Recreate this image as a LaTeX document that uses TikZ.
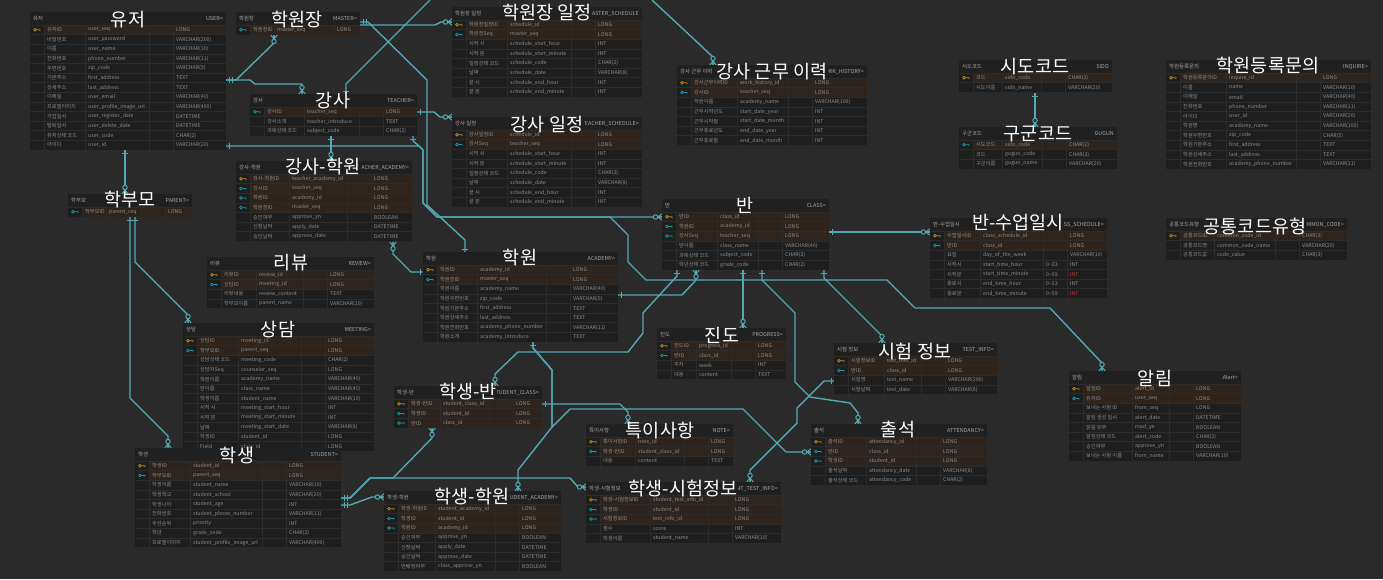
\documentclass[tikz,border=0pt]{standalone}
\usepackage{fontspec}
\setmainfont{Noto Sans CJK KR}
\definecolor{bgc}{HTML}{2A2A2A}
\definecolor{tbodyc}{HTML}{1E1E1E}
\definecolor{theadc}{HTML}{202020}
\definecolor{keyrowc}{HTML}{2F241C}
\definecolor{sepc}{HTML}{2C2C2C}
\definecolor{cellc}{HTML}{8C8C8C}
\definecolor{ttlc}{HTML}{A6A6A6}
\definecolor{connc}{HTML}{52AAB4}
\definecolor{keyy}{HTML}{B8901A}
\definecolor{keyt}{HTML}{1A9AA0}
\definecolor{redc}{HTML}{C83232}
\pgfdeclarelayer{bgl}\pgfdeclarelayer{lines}\pgfdeclarelayer{tables}\pgfdeclarelayer{mask}
\pgfsetlayers{bgl,lines,tables,mask,main}
\tikzset{
  cell/.style={font=\fontsize{5.2}{6}\selectfont, text=cellc, inner sep=0pt, anchor=west},
  ttl/.style={font=\fontsize{5.4}{6}\selectfont, text=ttlc, inner sep=0pt},
  biglabel/.style={font=\fontsize{18.5}{20}\selectfont, text=white, inner sep=0.5pt},
  rowsep/.style={draw=sepc, line width=0.4pt},
  conn/.style={draw=connc, line width=1.4pt, line join=round},
  mk/.style={draw=connc, line width=1pt},
}
\newcount\nrows
\newcommand\keyicon[3]{\draw[#1, line width=0.7pt] (#2-2,#3) circle (1.4) (#2-0.6,#3) -- (#2+3,#3) -- (#2+3,#3+1.3);}
\newcommand\dm[1]{\llap{\makebox[24pt][l]{#1}}}
\newcommand\redt[1]{\textcolor{redc}{#1}}
% #1 name #2 x #3 y #4 w #5 column offset #6 type offset #7 left title #8 right title #9 rows
\newcommand\tbl[9]{%
  \global\nrows=0
  \foreach \rr in {#9}{\global\advance\nrows by 1}%
  \pgfmathsetmacro\tbh{13+9.6*\the\nrows}%
  \node[inner sep=0pt, outer sep=0pt, minimum width=#4, minimum height=\tbh, anchor=north west] (#1) at (#2,#3) {};
  \begin{pgfonlayer}{tables}
    \fill[tbodyc] (#2,#3) rectangle ++(#4,\tbh);
    \fill[theadc] (#2,#3) rectangle ++(#4,13);
    \node[ttl, anchor=west] at (#2+3,#3+6.5) {#7};
    \node[ttl, anchor=east] at (#2+#4-3,#3+6.5) {#8};
    \foreach \kk/\ka/\kb/\kc [count=\ii] in {#9}{%
      \pgfmathsetmacro\yy{#3+13+(\ii-1)*9.6}%
      \ifnum\kk>0 \fill[keyrowc] (#2+14,\yy) rectangle ++(#4-14,9.6);\fi
      \draw[rowsep] (#2,\yy) -- ++(#4,0);
      \ifnum\kk=1 \keyicon{keyy}{#2+7}{\yy+4.8}\fi
      \ifnum\kk=2 \keyicon{keyt}{#2+7}{\yy+4.8}\fi
      \node[cell] at (#2+17,\yy+4.8) {\ka};
      \node[cell] at (#2+#5,\yy+4.8) {\kb};
      \node[cell] at (#2+#6,\yy+4.8) {\kc};
    }
    \foreach \vx in {14,#5-3,#6-27,#6-3}{\draw[rowsep] (#2+\vx,#3+13) -- ++(0,\tbh-13);}
  \end{pgfonlayer}
}
% #1 name #2 cx #3 cy #4 text #5 table top
\newcommand\blabel[5]{%
  \node[biglabel] (#1) at (#2,#3) {#4};
  \pgfmathsetmacro\mbot{#5+13}%
  \coordinate (#1-m1) at (0,#5);
  \coordinate (#1-m2) at (0,\mbot);
  \begin{pgfonlayer}{mask}
    \fill[theadc] (#1.west |- #1-m1) rectangle (#1.east |- #1-m2);
  \end{pgfonlayer}
}
\newcommand\crow[2]{\begin{scope}[shift={(#1)}, rotate=#2]
  \draw[mk] (0,3.2) -- (4,0) -- (0,-3.2) (0,0) -- (4,0);
  \draw[mk, fill=bgc] (6.5,0) circle (2.2);
\end{scope}}
\newcommand\onebar[2]{\begin{scope}[shift={(#1)}, rotate=#2]
  \draw[mk] (3,3) -- (3,-3);
\end{scope}}
\newcommand\twobar[2]{\begin{scope}[shift={(#1)}, rotate=#2]
  \draw[mk] (3,3) -- (3,-3) (6,3) -- (6,-3);
\end{scope}}
\begin{document}
\begin{tikzpicture}[x=1pt, y=-1pt]
\path[use as bounding box] (0,0) rectangle (1383,579);
\begin{pgfonlayer}{bgl}
  \fill[bgc] (0,0) rectangle (1383,579);
\end{pgfonlayer}

% ---------------- tables ----------------
\tbl{user}{30}{12}{196}{58}{146}{유저}{USER=}{1/유저ID/user\_seq/LONG, 0/비밀번호/user\_password/VARCHAR(200), 0/이름/user\_name/VARCHAR(10), 0/전화번호/phone\_number/VARCHAR(11), 0/우편번호/zip\_code/VARCHAR(5), 0/기본주소/first\_address/TEXT, 0/상세주소/last\_address/TEXT, 0/이메일/user\_email/VARCHAR(40), 0/프로필이미지/user\_profile\_image\_url/VARCHAR(400), 0/가입일시/user\_register\_date/DATETIME, 0/탈퇴일시/user\_delete\_date/DATETIME, 0/유저상태 코드/user\_code/CHAR(2), 0/아이디/user\_id/VARCHAR(20)}
\tbl{master}{236}{12}{124}{41}{101}{학원장}{MASTER=}{2/학원장ID/master\_seq/LONG}
\tbl{teacher}{250}{94}{167}{57}{136}{강사}{TEACHER=}{2/강사ID/teacher\_seq/LONG, 0/강사소개/teacher\_introduce/TEXT, 0/과목상태 코드/subject\_code/CHAR(2)}
\tbl{tacad}{236}{161}{176}{56}{138}{강사-학원}{TEACHER\_ACADEMY=}{1/강사-학원ID/teacher\_academy\_id/LONG, 2/강사ID/teacher\_seq/LONG, 2/학원ID/academy\_id/LONG, 2/학원장ID/master\_seq/LONG, 0/승인여부/approve\_yn/BOOLEAN, 0/신청날짜/apply\_date/DATETIME, 0/승인날짜/approve\_date/DATETIME}
\tbl{parent}{68}{194}{124}{41}{100}{학부모}{PARENT=}{2/학부모ID/parent\_seq/LONG}
\tbl{msched}{452}{7}{190}{58}{146}{학원장 일정}{MASTER\_SCHEDULE}{1/학원장일정ID/schedule\_id/LONG, 2/학원장Seq/master\_seq/LONG, 0/시작 시/schedule\_start\_hour/INT, 0/시작 분/schedule\_start\_minute/INT, 0/일정상태 코드/schedule\_code/CHAR(2), 0/날짜/schedule\_date/VARCHAR(8), 0/끝 시/schedule\_end\_hour/INT, 0/끝 분/schedule\_end\_minute/INT}
\tbl{tsched}{452}{117}{190}{58}{146}{강사 일정}{TEACHER\_SCHEDULE=}{1/강사일정ID/schedule\_id/LONG, 2/강사Seq/teacher\_seq/LONG, 0/시작 시/schedule\_start\_hour/INT, 0/시작 분/schedule\_start\_minute/INT, 0/일정상태 코드/schedule\_code/CHAR(2), 0/날짜/schedule\_date/VARCHAR(8), 0/끝 시/schedule\_end\_hour/INT, 0/끝 분/schedule\_end\_minute/INT}
\tbl{work}{677}{65}{190}{63}{138}{강사 근무 이력}{WORK\_HISTORY=}{1/강사근무이력ID/work\_history\_id/LONG, 2/강사ID/teacher\_seq/LONG, 0/학원이름/academy\_name/VARCHAR(100), 0/근무시작년도/start\_date\_year/INT, 0/근무시작월/start\_date\_month/INT, 0/근무종료년도/end\_date\_year/INT, 0/근무종료월/end\_date\_month/INT}
\tbl{class}{662}{199}{167}{58}{123}{반}{CLASS=}{1/반ID/class\_id/LONG, 2/학원ID/academy\_id/LONG, 2/강사Seq/teacher\_seq/LONG, 0/반이름/class\_name/VARCHAR(40), 0/과목상태 코드/subject\_code/CHAR(2), 0/학년상태 코드/grade\_code/CHAR(2)}
\tbl{sido}{959}{60}{153}{46}{109}{시도코드}{SIDO}{1/코드/sido\_code/CHAR(2), 0/시도이름/sido\_name/VARCHAR(20)}
\tbl{gugun}{959}{127}{158}{46}{110}{구군코드}{GUGUN}{2/시도코드/sido\_code/CHAR(2), 0/코드/gugun\_code/CHAR(3), 0/구군이름/gugun\_name/VARCHAR(20)}
\tbl{inq}{1166}{60}{205}{63}{157}{학원등록문의}{INQUIRE=}{1/학원등록문의ID/inquire\_id/LONG, 0/이름/name/VARCHAR(10), 0/이메일/email/VARCHAR(40), 0/전화번호/phone\_number/VARCHAR(11), 0/아이디/user\_id/VARCHAR(20), 0/학원명/academy\_name/VARCHAR(100), 0/학원우편번호/zip\_code/CHAR(5), 0/학원기본주소/first\_address/TEXT, 0/학원상세주소/last\_address/TEXT, 0/학원전화번호/academy\_phone\_number/VARCHAR(11)}
\tbl{csched}{930}{218}{177}{53}{140}{반-수업일시}{CLASS\_SCHEDULE=}{1/수업일시ID/class\_schedule\_id/LONG, 2/반ID/class\_id/LONG, 0/요일/day\_of\_the\_week/VARCHAR(10), 0/시작시/start\_time\_hour/\dm{0\textasciitilde 23}INT, 0/시작분/start\_time\_minute/\dm{0\textasciitilde 59}\redt{INT}, 0/종료시/end\_time\_hour/\dm{0\textasciitilde 23}INT, 0/종료분/end\_time\_minute/\dm{0\textasciitilde 59}\redt{INT}}
\tbl{ccode}{1166}{218}{181}{51}{136}{공통코드유형}{COMMON\_CODE=}{1/공통코드ID/common\_code\_id/CHAR(3), 0/공통코드명/common\_code\_name/VARCHAR(20), 0/공통코드값/code\_value/CHAR(3)}
\tbl{review}{207}{257}{167}{52}{123}{리뷰}{REVIEW=}{1/리뷰ID/review\_id/LONG, 2/상담ID/meeting\_id/LONG, 0/리뷰내용/review\_content/TEXT, 0/학부모이름/parent\_name/VARCHAR(10)}
\tbl{meeting}{183}{323}{191}{58}{145}{상담}{MEETING=}{1/상담ID/meeting\_id/LONG, 2/학부모ID/parent\_seq/LONG, 0/상담상태 코드/meeting\_code/CHAR(2), 0/상담자Seq/counselor\_seq/LONG, 0/학원이름/academy\_name/VARCHAR(40), 0/반이름/class\_name/VARCHAR(40), 0/학생이름/student\_name/VARCHAR(10), 0/시작 시/meeting\_start\_hour/INT, 0/시작 분/meeting\_start\_minute/INT, 0/날짜/meeting\_start\_date/VARCHAR(8), 0/학생ID/student\_id/LONG, 0/Field/class\_id/LONG}
\tbl{acad}{423}{252}{195}{57}{150}{학원}{ACADEMY=}{1/학원ID/academy\_id/LONG, 2/학원장ID/master\_seq/LONG, 0/학원이름/academy\_name/VARCHAR(40), 0/학원우편번호/zip\_code/VARCHAR(5), 0/학원기본주소/first\_address/TEXT, 0/학원상세주소/last\_address/TEXT, 0/학원전화번호/academy\_phone\_number/VARCHAR(11), 0/학원소개/academy\_introduce/TEXT}
\tbl{sclass}{394}{386}{148}{49}{122}{학생-반}{STUDENT\_CLASS=}{1/학생-반ID/student\_class\_id/LONG, 2/학생ID/student\_id/LONG, 2/반ID/class\_id/LONG}
\tbl{student}{135}{448}{206}{58}{154}{학생}{STUDENT=}{1/학생ID/student\_id/LONG, 2/학부모ID/parent\_seq/LONG, 0/학생이름/student\_name/VARCHAR(10), 0/학생학교/student\_school/VARCHAR(20), 0/학생나이/student\_age/INT, 0/전화번호/student\_phone\_number/VARCHAR(11), 0/우선순위/priority/INT, 0/학년/grade\_code/CHAR(2), 0/프로필이미지/student\_profile\_image\_url/VARCHAR(400)}
\tbl{sacad}{384}{491}{177}{54}{138}{학생-학원}{STUDENT\_ACADEMY=}{1/학생-학원ID/student\_academy\_id/LONG, 2/학생ID/student\_id/LONG, 2/학원ID/academy\_id/LONG, 0/승인여부/approve\_yn/BOOLEAN, 0/신청날짜/apply\_date/DATETIME, 0/승인날짜/approve\_date/DATETIME, 0/반배정여부/class\_approve\_yn/BOOLEAN}
\tbl{prog}{657}{328}{129}{42}{101}{진도}{PROGRESS=}{1/진도ID/progress\_id/LONG, 2/반ID/class\_id/LONG, 0/주차/week/INT, 0/내용/content/TEXT}
\tbl{tinfo}{834}{343}{163}{53}{114}{시험 정보}{TEST\_INFO=}{1/시험정보ID/test\_info\_id/LONG, 2/반ID/class\_id/LONG, 0/시험명/test\_name/VARCHAR(200), 0/시험날짜/test\_date/VARCHAR(8)}
\tbl{alert}{1069}{371}{172}{66}{127}{알림}{Alert=}{1/알림ID/alert\_id/LONG, 2/유저ID/user\_seq/LONG, 0/보내는 사람 ID/from\_seq/LONG, 0/알림 생성 일시/alert\_date/DATETIME, 0/읽음 유무/read\_yn/BOOLEAN, 0/알림상태 코드/alert\_code/CHAR(2), 0/승인여부/approve\_yn/BOOLEAN, 0/보내는 사람 이름/from\_name/VARCHAR(10)}
\tbl{note}{586}{424}{147}{52}{125}{특이사항}{NOTE=}{1/특이사항ID/note\_id/LONG, 2/학생-반ID/student\_class\_id/LONG, 0/내용/content/TEXT}
\tbl{attend}{811}{424}{176}{58}{132}{출석}{ATTENDANCY=}{1/출석ID/attendancy\_id/LONG, 2/반ID/class\_id/LONG, 2/학생ID/student\_id/LONG, 0/출석날짜/attendancy\_date/VARCHAR(8), 0/출석상태 코드/attendancy\_code/CHAR(2)}
\tbl{stinfo}{586}{482}{195}{67}{149}{학생-시험정보}{STUDENT\_TEST\_INFO=}{1/학생-시험정보ID/student\_test\_info\_id/LONG, 2/학생ID/student\_id/LONG, 2/시험정보ID/test\_info\_id/LONG, 0/점수/score/INT, 0/학생이름/student\_name/VARCHAR(10)}

% ---------------- big labels ----------------
\blabel{Luser}{128}{20}{유저}{12}
\blabel{Lmaster}{297}{20}{학원장}{12}
\blabel{Lteacher}{333}{101}{강사}{94}
\blabel{Ltacad}{323}{167}{강사-학원}{161}
\blabel{Lparent}{130}{200}{학부모}{194}
\blabel{Lmsched}{547}{13}{학원장 일정}{7}
\blabel{Ltsched}{547}{125}{강사 일정}{117}
\blabel{Lwork}{772}{72}{강사 근무 이력}{65}
\blabel{Lclass}{745}{205}{반}{199}
\blabel{Lsido}{1035}{67}{시도코드}{60}
\blabel{Lgugun}{1038}{134}{구군코드}{127}
\blabel{Linq}{1268}{66}{학원등록문의}{60}
\blabel{Lcsched}{1018}{223}{반-수업일시}{218}
\blabel{Lccode}{1255}{226}{공통코드유형}{218}
\blabel{Lreview}{291}{263}{리뷰}{257}
\blabel{Lmeeting}{278}{330}{상담}{323}
\blabel{Lacad}{520}{258}{학원}{252}
\blabel{Lsclass}{468}{392}{학생-반}{386}
\blabel{Lstudent}{237}{456}{학생}{448}
\blabel{Lsacad}{472}{497}{학생-학원}{491}
\blabel{Lprog}{722}{335}{진도}{328}
\blabel{Ltinfo}{915}{351}{시험 정보}{343}
\blabel{Lalert}{1155}{378}{알림}{371}
\blabel{Lnote}{660}{431}{특이사항}{424}
\blabel{Lattend}{898}{430}{출석}{424}
\blabel{Lstinfo}{683}{488}{학생-시험정보}{482}

% ---------------- connector end points ----------------
\coordinate (uE1) at (226,80);
\coordinate (mB) at (274,35);
\coordinate (tT1) at (302,94);
\coordinate (mE1) at (360,22);
\coordinate (mE2) at (360,25);
\coordinate (msW) at (452,22);
\coordinate (aT) at (465,252);
\coordinate (tT2) at (346,94);
\coordinate (top1) at (430,0);
\coordinate (top2) at (652,0);
\coordinate (whT) at (713,65);
\coordinate (tE) at (417,112);
\coordinate (tsW) at (452,117);
\coordinate (tB1) at (331,136);
\coordinate (taT) at (331,161);
\coordinate (uB) at (125,150);
\coordinate (pT) at (125,194);
\coordinate (pB1) at (130,217);
\coordinate (pB2) at (135,217);
\coordinate (sT) at (168,448);
\coordinate (meT) at (188,323);
\coordinate (taB) at (393,242);
\coordinate (aW) at (423,272);
\coordinate (uE2) at (226,146);
\coordinate (alT) at (1102,371);
\coordinate (tB2) at (413,136);
\coordinate (cW) at (662,217);
\coordinate (aE) at (618,295);
\coordinate (cB1) at (696,270);
\coordinate (cB2) at (677,270);
\coordinate (scT) at (495,386);
\coordinate (aB) at (533,342);
\coordinate (saT) at (518,491);
\coordinate (cB3) at (743,270);
\coordinate (prT) at (743,328);
\coordinate (cB4) at (762,270);
\coordinate (atT) at (858,424);
\coordinate (cB5) at (824,270);
\coordinate (tiT) at (882,343);
\coordinate (cE) at (829,232);
\coordinate (csW) at (930,232);
\coordinate (sdB) at (1035,93);
\coordinate (ggT) at (1035,127);
\coordinate (stE1) at (341,498);
\coordinate (stE2) at (341,505);
\coordinate (saW) at (384,497);
\coordinate (scB) at (432,428);
\coordinate (stiW) at (586,487);
\coordinate (atW) at (811,452);
\coordinate (scE) at (542,404);
\coordinate (noT) at (628,424);
\coordinate (tiW) at (834,381);
\coordinate (stiT) at (750,482);

% ---------------- connectors ----------------
\begin{pgfonlayer}{lines}
\draw[conn] (uE1) -- (236,80) -- (274,43) -- (mB);
\draw[conn] (uE1) -- (250,80) -- (255,84) -- (302,84) -- (tT1);
\draw[conn] (mE2) -- (435,25) -- (441,22) -- (msW);
\draw[conn] (mE1) -- (368,22) -- (427,80) -- (427,205) -- (465,240) -- (aT);
\draw[conn] (top1) -- (346,84) -- (tT2);
\draw[conn] (top2) -- (713,57) -- (whT);
\draw[conn] (tE) -- (434,112) -- (440,117) -- (tsW);
\draw[conn] (tB1) -- (taT);
\draw[conn] (uB) -- (pT);
\draw[conn] (pB1) -- (130,398) -- (168,436) -- (sT);
\draw[conn] (pB2) -- (135,262) -- (188,315) -- (meT);
\draw[conn] (taB) -- (393,254) -- (411,272) -- (aW);
\draw[conn] (uE2) -- (419,146) -- (423,150) -- (423,203) -- (437,217) -- (610,217) -- (628,235) -- (628,262) -- (646,280) -- (887,280) -- (915,308) -- (1050,308) -- (1102,363) -- (alT);
\draw[conn] (tB2) -- (413,141) -- (419,146) -- (423,150) -- (423,203) -- (437,217) -- (cW);
\draw[conn] (aE) -- (682,295) -- (696,280) -- (cB1);
\draw[conn] (cB2) -- (677,276) -- (643,313) -- (643,333) -- (628,352) -- (518,352) -- (495,374) -- (scT);
\draw[conn] (aB) -- (533,348) -- (552,370) -- (552,427) -- (518,470) -- (saT);
\draw[conn] (cB3) -- (prT);
\draw[conn] (cB4) -- (762,280) -- (795,313) -- (795,382) -- (810,397) -- (850,403) -- (858,413) -- (atT);
\draw[conn] (cB5) -- (824,278) -- (882,336) -- (tiT);
\draw[conn] (cE) -- (csW);
\draw[conn] (sdB) -- (ggT);
\draw[conn] (stE2) -- (350,505) -- (372,497) -- (saW);
\draw[conn] (stE1) -- (350,498) -- (370,478) -- (393,478) -- (432,438) -- (scB);
\draw[conn] (stE1) -- (350,498) -- (370,478) -- (570,478) -- (578,487) -- (stiW);
\draw[conn] (aB) -- (533,348) -- (552,370) -- (552,427) -- (570,409) -- (743,409) -- (786,452) -- (atW);
\draw[conn] (scE) -- (620,404) -- (628,412) -- (noT);
\draw[conn] (tiW) -- (824,381) -- (797,408) -- (797,423) -- (750,470) -- (stiT);
% markers
\twobar{uE1}{0} \crow{mB}{-90} \crow{tT1}{90}
\twobar{mE1}{0} \crow{msW}{180} \onebar{aT}{90}
\onebar{tT2}{90} \crow{whT}{90}
\onebar{tE}{0} \crow{tsW}{180}
\onebar{tB1}{-90} \crow{taT}{90}
\onebar{uB}{-90} \crow{pT}{90}
\onebar{pB1}{-90} \onebar{pB2}{-90} \crow{sT}{90} \crow{meT}{90}
\crow{taB}{-90} \onebar{aW}{180}
\onebar{uE2}{0} \crow{alT}{90}
\onebar{tB2}{-90} \crow{cW}{180}
\onebar{aE}{0} \crow{cB1}{-90}
\onebar{cB2}{-90} \crow{scT}{90}
\onebar{aB}{-90} \crow{saT}{90}
\onebar{cB3}{-90} \crow{prT}{90}
\onebar{cB4}{-90} \crow{atT}{90}
\onebar{cB5}{-90} \crow{tiT}{90}
\onebar{cE}{0} \crow{csW}{180}
\onebar{sdB}{-90} \crow{ggT}{90}
\twobar{stE1}{0} \twobar{stE2}{0}
\crow{saW}{180} \crow{scB}{-90} \crow{stiW}{180} \crow{atW}{180}
\onebar{scE}{0} \crow{noT}{90}
\onebar{tiW}{180} \crow{stiT}{90}
\end{pgfonlayer}
\end{tikzpicture}
\end{document}
